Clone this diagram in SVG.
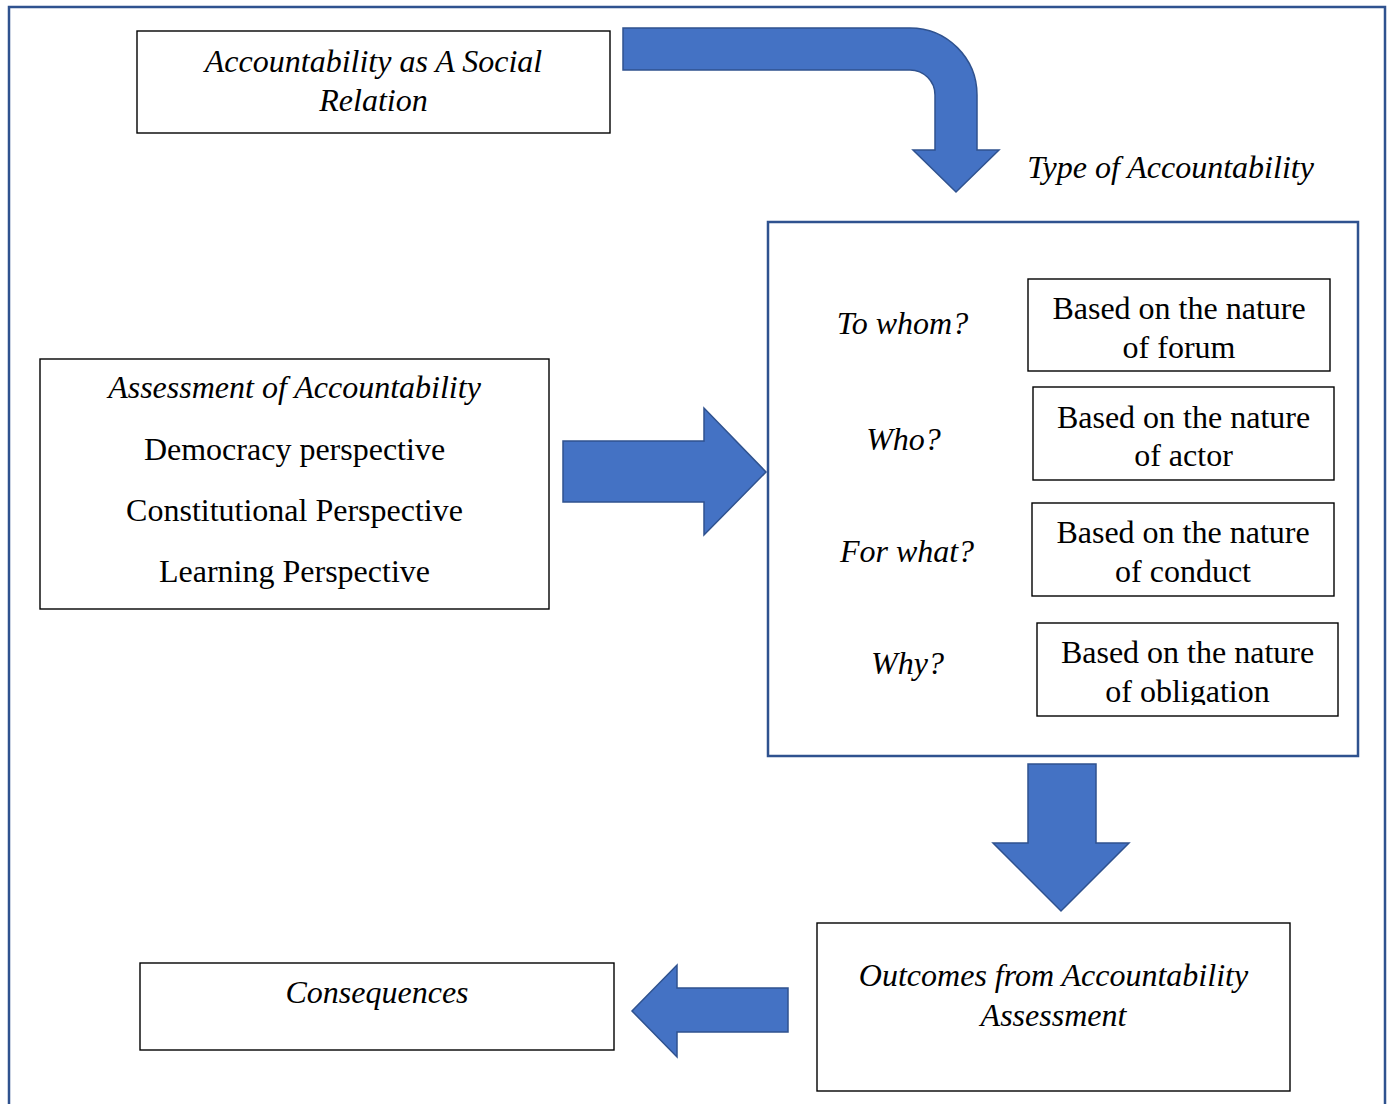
<svg xmlns="http://www.w3.org/2000/svg" width="1392" height="1104" viewBox="0 0 1392 1104">
  <style>
    .t { font-family: "Liberation Serif", "Times New Roman", serif; font-size: 32px; fill: #000; text-anchor: middle; }
    .i { font-style: italic; }
    .box { fill: #fff; stroke: #000; stroke-width: 1.4; }
    .frame { fill: none; stroke: #2F528F; stroke-width: 2.5; }
    .arrow { fill: #4472C4; stroke: #2F528F; stroke-width: 1.5; stroke-linejoin: miter; }
  </style>
  <defs>
    <clipPath id="clipObligation">
      <rect x="1037" y="623" width="301" height="82"/>
    </clipPath>
  </defs>

  <rect width="1392" height="1104" fill="#fff"/>

  <!-- outer frame, open at the bottom edge -->
  <rect class="frame" x="9" y="7" width="1376" height="1120"/>

  <g id="social-relation">
    <rect class="box" x="137" y="31" width="473" height="102"/>
    <text class="t i" x="373.5" y="72">Accountability as A Social</text>
    <text class="t i" x="373.5" y="111">Relation</text>
  </g>

  <g id="type-label">
    <text class="t i" x="1170.5" y="178">Type of Accountability</text>
  </g>

  <g id="assessment">
    <rect class="box" x="40" y="359" width="509" height="250"/>
    <text class="t i" x="294.5" y="398">Assessment of Accountability</text>
    <text class="t" x="294.5" y="460">Democracy perspective</text>
    <text class="t" x="294.5" y="521">Constitutional Perspective</text>
    <text class="t" x="294.5" y="582">Learning Perspective</text>
  </g>

  <g id="type-of-accountability">
    <rect class="frame" x="768" y="222" width="590" height="534" fill="#fff"/>
    <text class="t i" x="902.5" y="334">To whom?</text>
    <text class="t i" x="903.5" y="450">Who?</text>
    <text class="t i" x="907" y="562">For what?</text>
    <text class="t i" x="907.5" y="674">Why?</text>
  </g>

  <g id="nature-forum">
    <rect class="box" x="1028" y="279" width="302" height="92"/>
    <text class="t" x="1179" y="319">Based on the nature</text>
    <text class="t" x="1179" y="358">of forum</text>
  </g>

  <g id="nature-actor">
    <rect class="box" x="1033" y="387" width="301" height="93"/>
    <text class="t" x="1183.5" y="428">Based on the nature</text>
    <text class="t" x="1183.5" y="466">of actor</text>
  </g>

  <g id="nature-conduct">
    <rect class="box" x="1032" y="503" width="302" height="93"/>
    <text class="t" x="1183" y="543">Based on the nature</text>
    <text class="t" x="1183" y="582">of conduct</text>
  </g>

  <g id="nature-obligation">
    <rect class="box" x="1037" y="623" width="301" height="93"/>
    <g clip-path="url(#clipObligation)">
      <text class="t" x="1187.5" y="663">Based on the nature</text>
      <text class="t" x="1187.5" y="702">of obligation</text>
    </g>
  </g>

  <g id="outcomes">
    <rect class="box" x="817" y="923" width="473" height="168"/>
    <text class="t i" x="1053.5" y="986">Outcomes from Accountability</text>
    <text class="t i" x="1053.5" y="1026">Assessment</text>
  </g>

  <g id="consequences">
    <rect class="box" x="140" y="963" width="474" height="87"/>
    <text class="t i" x="377" y="1003">Consequences</text>
  </g>

  <g id="connectors">
    <!-- bent arrow: social relation to type of accountability -->
    <path class="arrow" d="M623,28 H910 A67,67 0 0 1 977,95 V150 H999 L956,192 L913,150 H935 V95 A25,25 0 0 0 910,70 H623 Z"/>
    <!-- assessment to type box -->
    <path class="arrow" d="M563,441 H704 V408 L766,472 L704,535 V502 H563 Z"/>
    <!-- type box down to outcomes -->
    <path class="arrow" d="M1028,764 H1096 V843 H1129 L1061,911 L993,843 H1028 Z"/>
    <!-- outcomes to consequences -->
    <path class="arrow" d="M788,988 V1032 H677 V1057 L632,1011 L677,965 V988 Z"/>
  </g>
</svg>
